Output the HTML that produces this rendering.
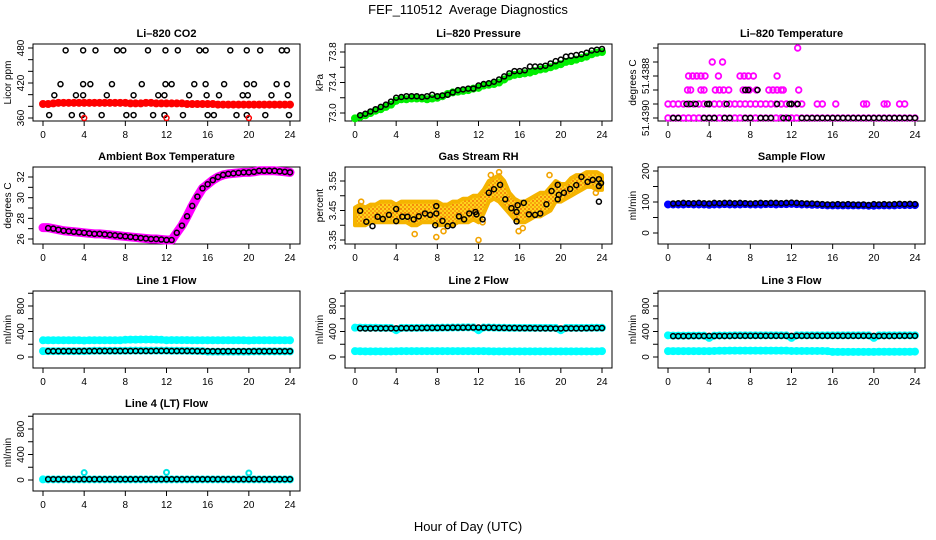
<!DOCTYPE html>
<html><head><meta charset="utf-8">
<style>
html,body{margin:0;padding:0;background:#fff;}
svg{display:block;font-family:"Liberation Sans",sans-serif;}
</style></head>
<body>
<svg id="chart" width="936" height="540" viewBox="0 0 936 540" xmlns="http://www.w3.org/2000/svg">
<defs>
<pattern id="rhpat" width="4" height="4" patternUnits="userSpaceOnUse">
<rect width="4" height="4" fill="#ffd21a"/>
<circle cx="1" cy="1" r="0.9" fill="#f05a00"/>
<circle cx="3" cy="3" r="0.9" fill="#f08a00"/>
</pattern>
</defs>
<text x="468" y="14" text-anchor="middle" font-size="13" xml:space="preserve">FEF_110512  Average Diagnostics</text>
<text x="468" y="531" text-anchor="middle" font-size="13">Hour of Day (UTC)</text>
</svg>
<script>
const H = [0,0.5,1,1.5,2,2.5,3,3.5,4,4.5,5,5.5,6,6.5,7,7.5,8,8.5,9,9.5,10,10.5,11,11.5,12,12.5,13,13.5,14,14.5,15,15.5,16,16.5,17,17.5,18,18.5,19,19.5,20,20.5,21,21.5,22,22.5,23,23.5,24];
const HB = [0.5,1,1.5,2,2.5,3,3.5,4,4.5,5,5.5,6,6.5,7,7.5,8,8.5,9,9.5,10,10.5,11,11.5,12,12.5,13,13.5,14,14.5,15,15.5,16,16.5,17,17.5,18,18.5,19,19.5,20,20.5,21,21.5,22,22.5,23,23.5,24];
const xTicks = [0,4,8,12,16,20,24];

// CO2
const co2Red = [384,384,385,386,386,386,386,386,386,386,386,386,386,386,386,386,386,385,385,385,386,386,385,385,385,385,385,385,384,384,384,384,384,384,383,383,383,383,383,383,383,383,383,383,383,383,383,383,383];
const co2BlackHours = [2.2,3.9,5.1,7.2,7.8,10.2,11.9,13.1,15.2,15.8,18.2,19.8,21.1,23.2,23.7, 1.7,3.9,4.6,6.7,9.6,11.9,12.5,14.7,15.8,17.6,19.8,20.5,22.7,23.7, 1.1,3.2,3.9,6.2,8.8,11.2,11.8,14.2,15.9,17.1,19.4,19.9,22.2,23.8, 0.6,2.8,3.8,5.7,8.1,8.8,10.7,11.8,13.6,16.0,16.6,18.8,19.8,21.6,23.9];
const co2BlackVals = [476,476,476,476,476,476,476,476,476,476,476,476,476,476,476, 418,418,418,418,418,418,418,418,418,418,418,418,418,418, 399,399,399,399,399,399,399,399,399,399,399,399,399,399, 365,365,365,365,365,365,365,365,365,365,365,365,365,365,365];
const co2RedOutHours = [4,12,20];
const co2RedOutVals = [360,360,360];

// Pressure
const pressGreen = [72.93,72.95,72.97,73.00,73.03,73.05,73.08,73.11,73.16,73.18,73.18,73.19,73.19,73.19,73.18,73.19,73.20,73.22,73.25,73.27,73.28,73.29,73.30,73.32,73.33,73.36,73.37,73.38,73.40,73.44,73.48,73.50,73.51,73.52,73.53,73.55,73.57,73.58,73.60,73.62,73.64,73.67,73.68,73.70,73.72,73.74,73.77,73.79,73.80];
const pressBlack = [72.97,72.99,73.02,73.05,73.08,73.11,73.15,73.20,73.21,73.22,73.22,73.22,73.21,73.22,73.24,73.22,73.23,73.24,73.27,73.30,73.31,73.32,73.32,73.36,73.38,73.39,73.41,73.44,73.48,73.52,73.55,73.55,73.56,73.61,73.61,73.61,73.62,73.65,73.68,73.70,73.74,73.75,73.76,73.77,73.79,73.82,73.83,73.84];

// Li-820 temperature (discrete levels)
const tempMagHours = [0,0.5,1,1.5,2,2.5,3,3.5,4,4.5,5,5.5,6,6.5,7,7.5,8,8.5,9,9.5,10,10.5,11,11.5,12,12.5,13,13.5,14,14.5,15,15.5,16,16.5,17,17.5,18,18.5,19,19.5,20,20.5,21,21.5,22,22.5,23,23.5,24,
 0,0.5,1,1.5,2,2.5,3,3.5,4,4.5,5,5.5,6,6.5,7,7.5,8,8.5,9,9.5,10,10.5,11,11.5,12,12.5,13,14.5,15,16.3,19,19.3,21,21.3,22.5,23,
 1.9,2.2,3.2,3.5,4.6,5.0,5.4,5.9,7.3,7.6,7.9,8.6,9.8,10.2,10.6,11.0,11.2,12.7,
 2.0,2.4,2.8,3.2,3.6,4.9,7.0,7.4,7.8,8.3,10.6,
 4.3,5.3, 12.6];
const tempMagLevels = [0,0,0,0,0,0,0,0,0,0,0,0,0,0,0,0,0,0,0,0,0,0,0,0,0,0,0,0,0,0,0,0,0,0,0,0,0,0,0,0,0,0,0,0,0,0,0,0,0,
 1,1,1,1,1,1,1,1,1,1,1,1,1,1,1,1,1,1,1,1,1,1,1,1,1,1,1,1,1,1,1,1,1,1,1,1,
 2,2,2,2,2,2,2,2,2,2,2,2,2,2,2,2,2,2,
 3,3,3,3,3,3,3,3,3,3,3,
 4,4, 5];
const tempBlackHours = [0.5,1.0,3.5,4,4.5,5.5,6,7.5,8,9,9.5,10,11.2,11.7,13,13.5,14,14.5,15,15.5,16,16.5,17,17.5,18,18.5,19,19.5,20,20.5,21,21.5,22,22.5,23,23.5,24, 1.8,2.2,2.7,3.8,4.0,5.7,10.6,11.8,12.0,12.6, 7.5,7.8,8.7];
const tempBlackLevels = [0,0,0,0,0,0,0,0,0,0,0,0,0,0,0,0,0,0,0,0,0,0,0,0,0,0,0,0,0,0,0,0,0,0,0,0,0, 1,1,1,1,1,1,1,1,1,1, 2,2,2];

// Ambient
const ambMag = [27.1,27.1,27.0,26.9,26.8,26.75,26.7,26.65,26.6,26.55,26.5,26.5,26.45,26.4,26.35,26.3,26.25,26.2,26.15,26.1,26.05,26.0,26.0,25.95,25.9,25.9,26.6,27.3,28.2,29.2,30.1,30.9,31.3,31.7,32.0,32.2,32.3,32.35,32.4,32.45,32.45,32.5,32.6,32.6,32.6,32.6,32.55,32.5,32.45];
const ambBlack = [27.05,27.0,26.9,26.8,26.75,26.7,26.65,26.6,26.55,26.5,26.5,26.45,26.4,26.35,26.3,26.25,26.2,26.15,26.1,26.05,26.0,26.0,25.95,25.9,25.9,26.6,27.3,28.2,29.2,30.1,30.9,31.3,31.7,32.0,32.2,32.3,32.35,32.4,32.45,32.45,32.5,32.6,32.6,32.6,32.6,32.55,32.5,32.45];

// RH
const rhUpper = [3.46,3.47,3.46,3.47,3.47,3.48,3.48,3.48,3.47,3.48,3.48,3.48,3.48,3.48,3.48,3.48,3.48,3.47,3.47,3.48,3.48,3.49,3.49,3.50,3.50,3.52,3.55,3.56,3.57,3.55,3.51,3.49,3.48,3.48,3.49,3.50,3.51,3.51,3.53,3.55,3.54,3.54,3.56,3.57,3.57,3.58,3.58,3.58,3.57];
const rhLower = [3.40,3.40,3.40,3.41,3.41,3.41,3.41,3.41,3.41,3.41,3.41,3.40,3.40,3.41,3.41,3.41,3.40,3.40,3.40,3.40,3.41,3.41,3.41,3.42,3.41,3.44,3.48,3.49,3.48,3.46,3.44,3.42,3.41,3.41,3.42,3.43,3.43,3.44,3.45,3.48,3.48,3.49,3.50,3.51,3.52,3.53,3.53,3.52,3.52];
const rhOutHours = [0.6,5.8,7.9,8.6,12.0,12.4,13.2,14.0,15.9,16.3,18.9,23.4];
const rhOutVals = [3.48,3.37,3.36,3.38,3.35,3.41,3.57,3.58,3.38,3.39,3.57,3.51];
const rhBlackHours = [0.5,1.1,1.7,2.2,2.7,3.3,4.0,4.0,4.6,5.1,5.7,6.2,6.8,7.3,7.9,7.9,7.8,8.5,9.0,9.5,10.1,10.6,11.1,11.7,11.8,12.4,13.0,13.5,14.1,14.6,15.2,15.7,15.7,15.8,16.4,16.9,17.5,18.0,18.6,19.1,19.7,19.7,19.8,20.3,20.9,21.5,22.0,22.6,23.1,23.7,23.7,23.7,23.9];
const rhBlackVals = [3.449,3.412,3.397,3.429,3.421,3.435,3.455,3.414,3.429,3.429,3.42,3.43,3.44,3.435,3.465,3.44,3.40,3.415,3.397,3.40,3.43,3.42,3.44,3.445,3.437,3.42,3.51,3.522,3.537,3.488,3.458,3.445,3.413,3.468,3.476,3.437,3.435,3.44,3.471,3.516,3.537,3.488,3.503,3.51,3.523,3.536,3.564,3.547,3.554,3.556,3.533,3.48,3.543];

// Sample flow
const sampBlue = [92,92,92,92,93,92,92,92,91,92,92,93,92,92,92,93,92,92,92,93,93,92,93,93,94,93,92,92,91,91,90,89,89,89,89,89,89,89,89,88,88,89,89,89,89,90,90,90,90];
const sampBlack = [95,96,97,96,96,97,96,95,97,96,97,97,96,97,96,95,96,97,96,97,97,96,97,98,97,96,95,95,94,93,92,92,93,92,93,92,91,92,90,93,92,93,92,93,94,93,94,93];

// Line flows
const l1Upper = [262,262,262,262,262,262,262,262,258,262,262,262,262,262,262,262,270,272,272,274,274,274,272,270,262,265,265,264,264,262,262,262,262,262,262,262,262,262,262,262,258,262,262,262,262,262,262,262,262];
const l1Lower = [92,92,92,92,92,92,92,92,92,95,98,98,98,98,98,98,98,100,100,100,100,100,100,100,100,98,98,98,98,95,95,92,85,85,85,85,85,85,85,85,85,88,88,88,88,88,88,88,88];
const l1Black = [92,92,92,92,93,93,93,94,94,94,94,94,94,95,95,95,95,95,95,95,95,96,96,96,95,95,95,94,94,93,92,92,91,91,91,91,91,91,91,91,91,91,91,91,91,91,91,91];
const l2Upper = [460,460,458,458,458,456,456,456,420,456,456,456,456,458,458,458,458,460,460,462,462,464,464,464,420,462,462,460,458,458,456,456,456,456,456,456,456,456,456,456,420,456,456,456,456,456,458,458,458];
const l2Lower = [92,90,88,88,88,88,88,88,90,92,92,92,92,92,92,92,92,92,92,92,92,92,92,92,92,92,90,88,88,88,88,88,88,88,88,88,88,88,88,88,88,88,88,88,88,88,88,88,92];
const l2Black = [450,448,448,450,450,450,450,450,452,452,452,454,454,456,456,456,458,458,460,460,460,462,462,462,460,460,458,456,456,454,454,452,452,452,450,450,450,450,448,448,450,450,450,450,452,452,454,454];
const l3Upper = [340,336,336,336,336,336,336,336,300,336,338,338,338,340,340,340,340,340,340,340,340,340,340,340,300,340,340,340,340,340,340,340,340,340,340,340,340,340,340,340,300,340,340,340,340,340,340,340,340];
const l3Lower = [92,92,92,92,92,92,92,92,92,95,98,98,100,100,100,100,100,100,100,100,100,100,100,100,95,95,95,95,95,95,95,92,80,80,80,80,80,80,80,80,80,82,82,82,82,82,82,82,85];
const l3Black = [328,328,328,328,330,330,330,332,330,330,330,330,332,332,332,332,332,332,332,332,332,332,332,332,332,332,332,332,332,332,332,332,332,332,332,332,332,332,332,332,330,330,330,330,332,332,332,332];
const l4Cyan = [10,10,10,10,10,10,10,10,10,10,10,10,10,10,10,10,10,10,10,10,10,10,10,10,10,10,10,10,10,10,10,10,10,10,10,10,10,10,10,10,10,10,10,10,10,10,10,10,10];
const l4SpikeHours = [4,12,20];
const l4SpikeVals = [115,120,110];
const l4Black = [12,12,12,12,12,12,12,12,12,12,12,12,12,12,12,12,12,12,12,12,12,12,12,12,12,12,12,12,12,12,12,12,12,12,12,12,12,12,12,12,12,12,12,12,12,12,12,12];

const NS = "http://www.w3.org/2000/svg";
const svg = document.getElementById('chart');
const colX0 = [43, 355, 668];
const rowTop = [44, 167, 291, 414];

function mk(tag, attrs, parent){
  const e = document.createElementNS(NS, tag);
  for (const k in attrs) e.setAttribute(k, attrs[k]);
  (parent||svg).appendChild(e);
  return e;
}

function panel(name, title, col, row, cal, ticks, labels, ylab){
  const g = mk('g', {});
  
  
  const x0 = colX0[col], top = rowTop[row], bot = top + 77;
  const xs = h => x0 + h * 247 / 24;
  const ys = v => cal[0][1] + (v - cal[0][0]) * (cal[1][1] - cal[0][1]) / (cal[1][0] - cal[0][0]);
  const box = mk('rect', {x: x0 - 10, y: top, width: 267, height: 77, fill: 'none', stroke: '#000', 'stroke-width': 1}, g);
  
  
  const t = mk('text', {x: x0 + 123.5, y: top - 7, 'text-anchor': 'middle', 'font-size': 11, 'font-weight': 'bold'}, g);
  t.textContent = title;
  
  
  xTicks.forEach(h => {
    mk('line', {x1: xs(h), x2: xs(h), y1: bot, y2: bot + 5, stroke: '#000'}, g);
    const lt = mk('text', {x: xs(h), y: bot + 17, 'text-anchor': 'middle', 'font-size': 10}, g);
    lt.textContent = h;
    
    
  });
  const ax = x0 - 10;
  ticks.forEach(v => mk('line', {x1: ax, x2: ax - 5, y1: ys(v), y2: ys(v), stroke: '#000'}, g));
  labels.forEach(l => {
    const yy = ys(l[0]);
    const lt = mk('text', {x: ax - 9, y: yy, 'text-anchor': 'middle', 'font-size': 10, transform: 'rotate(-90 ' + (ax - 9) + ' ' + yy + ')'}, g);
    lt.textContent = l[1];
    
    
  });
  const yl = mk('text', {x: ax - 22, y: top + 38.5, 'text-anchor': 'middle', 'font-size': 10, transform: 'rotate(-90 ' + (ax - 22) + ' ' + (top + 38.5) + ')'}, g);
  yl.textContent = ylab;
  
  
  return {g, xs, ys};
}

function pts(p, hours, vals, color, r, sw, nm){
  const n = Math.min(hours.length, vals.length);
  for (let i = 0; i < n; i++){
    const c = mk('circle', {cx: p.xs(hours[i]), cy: p.ys(vals[i]), r: r, fill: 'none', stroke: color, 'stroke-width': sw}, p.g);
    
    
  }
}
function band(p, hours, vals, color, w, nm){
  let d = '';
  const n = Math.min(hours.length, vals.length);
  for (let i = 0; i < n; i++) d += (i ? 'L' : 'M') + p.xs(hours[i]) + ' ' + p.ys(vals[i]);
  const e = mk('path', {d: d, fill: 'none', stroke: color, 'stroke-width': w, 'stroke-linejoin': 'round', 'stroke-linecap': 'round'}, p.g);
  
  
}
const CR = 3, CW = 2, BR = 2.5, BW = 1.5;
function colored(p, hours, vals, color, w, nm){
  band(p, hours, vals, color, w, nm + '-band');
  pts(p, hours, vals, color, CR, CW, nm + '-point');
}

// Panel 1: CO2
let p = panel('co2', 'Li\u2013820 CO2', 0, 0, [[360,118],[480,48]], [360,380,400,420,440,460,480], [[360,'360'],[420,'420'],[480,'480']], 'Licor ppm');
colored(p, H, co2Red, '#ff0000', 6, 'co2-red');
pts(p, co2BlackHours, co2BlackVals, '#000', BR, BW, 'co2-black-point');
pts(p, co2RedOutHours, co2RedOutVals, '#ff0000', BR, BW, 'co2-red-outlier');

// Panel 2: Pressure
p = panel('pressure', 'Li\u2013820 Pressure', 1, 0, [[73.0,113],[73.8,52]], [73.0,73.2,73.4,73.6,73.8], [[73.0,'73.0'],[73.4,'73.4'],[73.8,'73.8']], 'kPa');
colored(p, H, pressGreen, '#00ee00', 6, 'pressure-green');
pts(p, HB, pressBlack, '#000', BR, BW, 'pressure-black-point');

// Panel 3: Li-820 temperature
p = panel('li820-temp', 'Li\u2013820 Temperature', 2, 0, [[0,118],[5,48]], [0,1,2,3,4,5], [[0,'51.4390'],[3,'51.4388']], 'degrees C');
pts(p, tempMagHours, tempMagLevels, '#ff00ff', 2.8, 1.8, 'temp-magenta-point');
pts(p, tempBlackHours, tempBlackLevels, '#000', BR, BW, 'temp-black-point');

// Panel 4: Ambient
p = panel('ambient', 'Ambient Box Temperature', 0, 1, [[26,239],[32,177]], [26,27,28,29,30,31,32], [[26,'26'],[28,'28'],[30,'30'],[32,'32']], 'degrees C');
colored(p, H, ambMag, '#ff00ff', 9, 'ambient-magenta');
pts(p, HB, ambBlack, '#000', BR, BW, 'ambient-black-point');

// Panel 5: RH
p = panel('rh', 'Gas Stream RH', 1, 1, [[3.35,240],[3.55,181]], [3.35,3.40,3.45,3.50,3.55], [[3.35,'3.35'],[3.45,'3.45'],[3.55,'3.55']], 'percent');
{
  let d = '';
  H.forEach((h,i) => { d += (i ? 'L' : 'M') + p.xs(h) + ' ' + p.ys(rhUpper[i]); });
  for (let i = H.length - 1; i >= 0; i--) d += 'L' + p.xs(H[i]) + ' ' + p.ys(rhLower[i]);
  const cloud = mk('path', {d: d + 'Z', fill: 'url(#rhpat)', stroke: '#f5b400', 'stroke-width': 4, 'stroke-linejoin': 'round'}, p.g);
  
  
}
pts(p, rhOutHours, rhOutVals, '#f2a300', 2.5, 1.6, 'rh-orange-outlier');
pts(p, rhBlackHours, rhBlackVals, '#000', BR, BW, 'rh-black-point');

// Panel 6: Sample flow
p = panel('sample-flow', 'Sample Flow', 2, 1, [[0,233],[200,171]], [0,50,100,150,200], [[0,'0'],[100,'100'],[200,'200']], 'ml/min');
colored(p, H, sampBlue, '#0000ff', 6, 'sample-blue');
pts(p, HB, sampBlack, '#000', BR, BW, 'sample-black-point');

const flowTicks = [0,200,400,600,800,1000];
const flowLabels = [[0,'0'],[400,'400'],[800,'800']];
// Panel 7: Line 1
p = panel('line1-flow', 'Line 1 Flow', 0, 2, [[0,357],[800,306]], flowTicks, flowLabels, 'ml/min');
colored(p, H, l1Upper, '#00ffff', 7, 'line1-cyan-upper');
colored(p, H, l1Lower, '#00ffff', 7, 'line1-cyan-lower');
pts(p, HB, l1Black, '#000', BR, BW, 'line1-black-point');
// Panel 8: Line 2
p = panel('line2-flow', 'Line 2 Flow', 1, 2, [[0,357],[800,306]], flowTicks, flowLabels, 'ml/min');
colored(p, H, l2Upper, '#00ffff', 7, 'line2-cyan-upper');
colored(p, H, l2Lower, '#00ffff', 7, 'line2-cyan-lower');
pts(p, HB, l2Black, '#000', BR, BW, 'line2-black-point');
// Panel 9: Line 3
p = panel('line3-flow', 'Line 3 Flow', 2, 2, [[0,357],[800,306]], flowTicks, flowLabels, 'ml/min');
colored(p, H, l3Upper, '#00ffff', 7, 'line3-cyan-upper');
colored(p, H, l3Lower, '#00ffff', 7, 'line3-cyan-lower');
pts(p, HB, l3Black, '#000', BR, BW, 'line3-black-point');
// Panel 10: Line 4
p = panel('line4-flow', 'Line 4 (LT) Flow', 0, 3, [[0,480],[800,429]], flowTicks, flowLabels, 'ml/min');
colored(p, H, l4Cyan, '#00ffff', 6, 'line4-cyan');
pts(p, l4SpikeHours, l4SpikeVals, '#00e5e5', BR, 2, 'line4-cyan-spike');
pts(p, HB, l4Black, '#000', BR, BW, 'line4-black-point');
</script>
</body></html>
